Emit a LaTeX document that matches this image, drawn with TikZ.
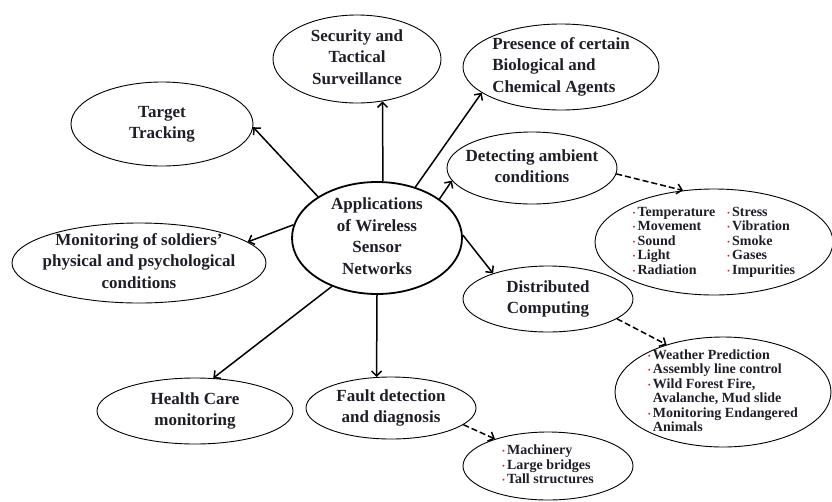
\documentclass[tikz,border=0pt]{standalone}
\usepackage{fontspec}
\setmainfont{Liberation Serif}
\usetikzlibrary{shapes.geometric}
\usetikzlibrary{arrows.meta}
\definecolor{txt}{RGB}{30,30,40}
\definecolor{bulred}{RGB}{185,45,45}
\newcommand{\itm}{\textcolor{bulred}{\raisebox{1pt}{\scriptsize\textbullet}}\,}
\newcommand{\etxt}[2][c]{\smash{\makebox[0pt]{\raisebox{-4pt}{\begin{tabular}{@{}#1@{}}#2\end{tabular}}}}}

\begin{document}
\begin{tikzpicture}[x=1pt,y=-1pt,
    bub/.style={ellipse, draw=black, line width=0.9pt, inner sep=0pt, text=txt,
      font=\fontsize{17}{21.5}\selectfont\bfseries},
    lst/.style={bub, font=\fontsize{14}{14.5}\selectfont\bfseries},
    arr/.style={-{Straight Barb[length=5pt,width=10pt]}, line width=1.5pt},
    darr/.style={arr, dash pattern=on 6pt off 3pt}]
    \useasboundingbox (0,0) rectangle (832,501);

    \node[bub, line width=1.8pt, minimum width=170pt, minimum height=112pt] (app) at (377,238)
      {\etxt{Applications\\of Wireless\\Sensor\\Networks}};

    \node[bub, minimum width=168pt, minimum height=88pt] (secu) at (357,59)
      {\etxt{Security and\\Tactical\\Surveillance}};
    \node[bub, minimum width=196pt, minimum height=86pt] (pres) at (561,67)
      {\etxt[l]{Presence of certain\\Biological and\\Chemical Agents}};
    \node[bub, minimum width=182pt, minimum height=84pt] (targ) at (162,124)
      {\etxt{Target\\Tracking}};
    \node[bub, minimum width=254pt, minimum height=80pt] (sold) at (139,263)
      {\etxt{Monitoring of soldiers'\\physical and psychological\\conditions}};
    \node[bub, minimum width=170pt, minimum height=72pt] (detc) at (532,168)
      {\etxt{Detecting ambient\\conditions}};
    \node[bub, minimum width=170pt, minimum height=66pt] (dist) at (548,299)
      {\etxt{Distributed\\Computing}};
    \node[bub, minimum width=196pt, minimum height=66pt] (hlth) at (195,411)
      {\etxt{Health Care\\monitoring}};
    \node[bub, minimum width=170pt, minimum height=62pt] (flt) at (391,408)
      {\etxt{Fault detection\\and diagnosis}};

    % bullet lists
    \node[lst, minimum width=238pt, minimum height=106pt] (ambl) at (714,242)
      {\etxt[l@{\hspace{12pt}}l]{\itm Temperature & \itm Stress\\
        \itm Movement & \itm Vibration\\ \itm Sound & \itm Smoke\\
        \itm Light & \itm Gases\\ \itm Radiation & \itm Impurities}};
    \node[lst, minimum width=216pt, minimum height=110pt] (wthr) at (723,392)
      {\etxt[l]{\itm Weather Prediction\\ \itm Assembly line control\\
        \itm Wild Forest Fire,\\ \phantom{\itm}Avalanche, Mud slide\\
        \itm Monitoring Endangered\\ \phantom{\itm}Animals}};
    \node[lst, minimum width=170pt, minimum height=68pt] (mach) at (548,466)
      {\etxt[l]{\itm Machinery\\ \itm Large bridges\\ \itm Tall structures}};

    \draw[arr] (app.145) -- (targ.-2);
    \draw[arr] (app.84) -- (secu.-59);
    \draw[arr] (app.53) -- (pres.-162);
    \draw[arr] (app.32) -- (detc.-171);
    \draw[arr] (app.171) -- (sold.11);
    \draw[arr] (app.2) -- (dist.155);
    \draw[arr] (app.227) -- (hlth.61);
    \draw[arr] (app.south) -- (flt.115);

    \draw[darr] (detc.-4) -- (ambl.121);
    \draw[darr] (dist.-16) -- (wthr.140);
    \draw[darr] (flt.-13) -- (mach.153);
\end{tikzpicture}
\end{document}
